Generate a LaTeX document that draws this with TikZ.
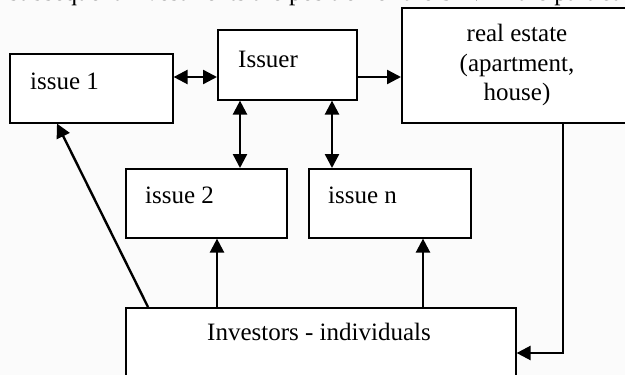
\documentclass[tikz,border=0pt]{standalone}
\usepackage{fontspec}
\setmainfont{Liberation Serif}
\usetikzlibrary{arrows.meta}
\begin{document}
\begin{tikzpicture}[x=1pt,y=-1pt,font=\fontsize{25}{29.5}\selectfont,
	box/.style={draw,line width=1.6pt,fill=white,anchor=north west,inner sep=0pt},
	lab/.style={anchor=base west,inner sep=0pt},
	arr/.style={line width=2.4pt,-{Triangle[length=14pt,width=14pt]}},
	darr/.style={line width=2.4pt,{Triangle[length=14pt,width=14pt]}-{Triangle[length=14pt,width=14pt]}}]
	%background
	\useasboundingbox[fill=gray!3] (0,0) rectangle (625,375);

	%line of text above, cut off
	\begin{scope}
	\clip (0,0) rectangle (625,7);
	\node[lab] (toptext) at (9,0) {subsequent investments the position of the SPV in the particul};
	\end{scope}

	%boxes
	\node[box,minimum width=163pt,minimum height=69pt] (iss1) at (9,53) {}; %issue 1
	\node[box,minimum width=139pt,minimum height=70pt] (issuer) at (217,29) {}; %Issuer
	\node[box,minimum width=232pt,minimum height=115pt] (realestate) at (401,7) {}; %real estate
	\node[box,minimum width=161pt,minimum height=69pt] (iss2) at (125,168) {}; %issue 2
	\node[box,minimum width=162pt,minimum height=69pt] (issn) at (308,168) {}; %issue n
	\node[box,minimum width=390pt,minimum height=70pt] (investors) at (125,307) {}; %investors

	%labels
	\node[lab] (iss1lab) at (30,89) {issue 1};
	\node[lab] (issuerlab) at (238,67) {Issuer};
	\node[anchor=north,inner sep=0pt,align=center] (realestatelab) at (517,24) {real estate\\(apartment,\\house)};
	\node[lab] (iss2lab) at (145,203) {issue 2};
	\node[lab] (issnlab) at (328,203) {issue n};
	\node[lab] (investorslab) at (207,340) {Investors - individuals};

	%rows and columns of the arrows
	\coordinate (rowtop) at (0,77);
	\coordinate (rowbot) at (0,353);
	\coordinate (colA) at (240,0);
	\coordinate (colB) at (332,0);
	\coordinate (colC) at (217,0);
	\coordinate (colD) at (423,0);
	\coordinate (colE) at (563,0);
	\coordinate (colF) at (148,0);
	\coordinate (colG) at (57,0);

	%arrows
	\draw[darr] (iss1.east |- rowtop) -- (issuer.west |- rowtop); %issue 1 - Issuer
	\draw[arr] (issuer.east |- rowtop) -- (realestate.west |- rowtop); %Issuer to real estate
	\draw[darr] (issuer.south -| colA) -- (iss2.north -| colA); %Issuer - issue 2
	\draw[darr] (issuer.south -| colB) -- (issn.north -| colB); %Issuer - issue n
	\draw[arr] (investors.north -| colC) -- (iss2.south -| colC); %investors to issue 2
	\draw[arr] (investors.north -| colD) -- (issn.south -| colD); %investors to issue n
	\draw[arr] (investors.north -| colF) -- (iss1.south -| colG); %investors to issue 1
	\draw[arr] (realestate.south -| colE) |- (investors.east |- rowbot); %real estate to investors
\end{tikzpicture}
\end{document}
